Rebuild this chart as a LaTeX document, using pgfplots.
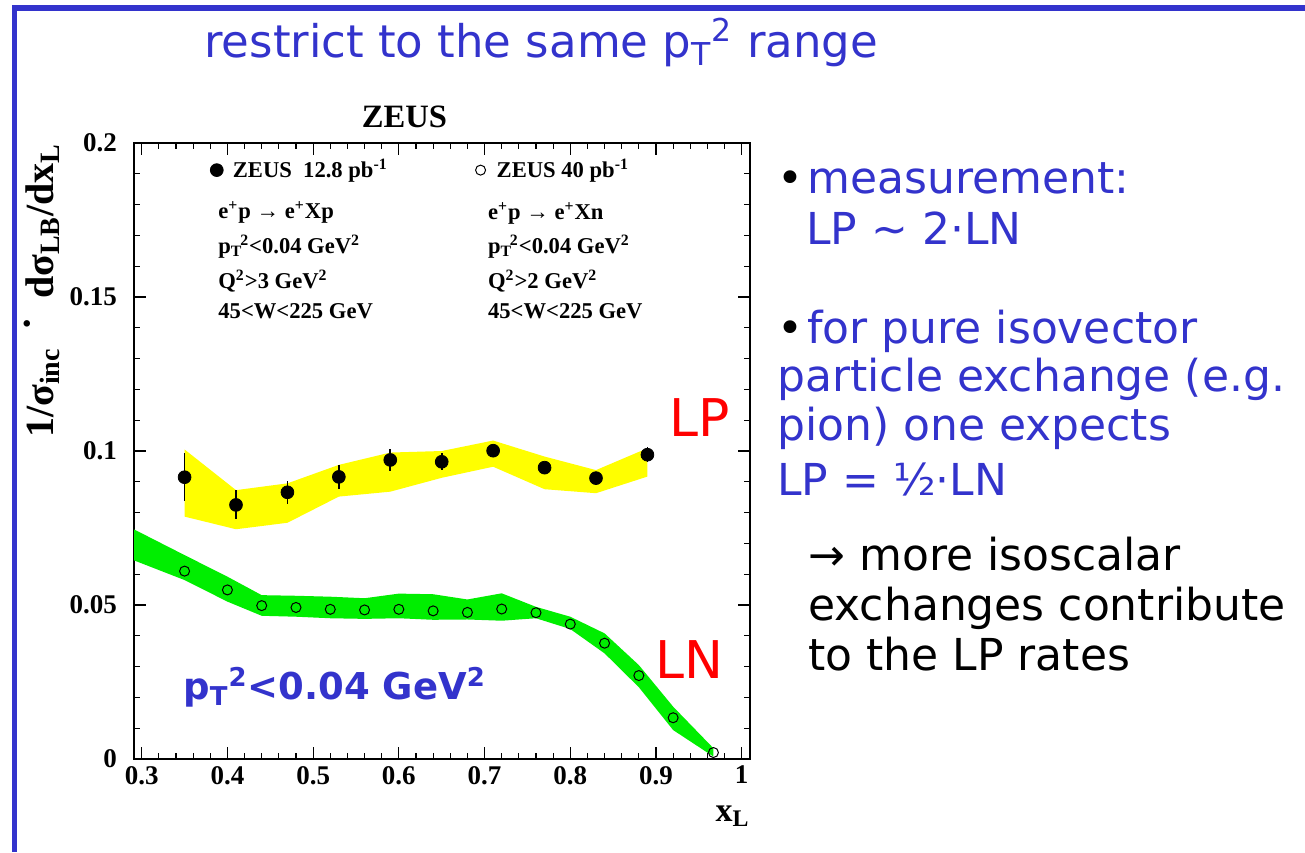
\documentclass[border=0pt]{standalone}
\usepackage{fontspec}
\setmainfont{Liberation Serif}
\newfontfamily\comic{DejaVu Sans}
\usepackage{pgfplots}
\pgfplotsset{compat=1.18}
\usepackage{pgfplotstable}
\definecolor{sblue}{RGB}{51,51,204}
\definecolor{sred}{RGB}{255,0,0}
\definecolor{byellow}{RGB}{255,255,0}
\definecolor{bgreen}{RGB}{0,238,0}

\pgfplotstableread{
x y e
0.35 0.0915 0.0078
0.41 0.0825 0.0047
0.47 0.0866 0.0037
0.53 0.0916 0.0039
0.59 0.0971 0.0036
0.65 0.0965 0.0027
0.71 0.1001 0.0020
0.77 0.0946 0.0010
0.83 0.0912 0.0010
0.89 0.0988 0.0024
}\lpdata

\pgfplotstableread{
x y
0.35 0.0610
0.40 0.0549
0.44 0.0498
0.48 0.0492
0.52 0.0486
0.56 0.0484
0.60 0.0486
0.64 0.0481
0.68 0.0476
0.72 0.0487
0.76 0.0475
0.80 0.0438
0.84 0.0376
0.88 0.0271
0.92 0.0134
0.967 0.0021
}\lndata

\begin{document}
\begin{tikzpicture}
\useasboundingbox (0,0) rectangle (652.5pt,-426pt);
\fill[white] (0,0) rectangle (652.5pt,-426pt);
\begin{scope}[x=0.5pt,y=-0.5pt]
\fill[sblue] (12,5) rectangle (1305,11);
\fill[sblue] (12,5) rectangle (17,852);
% slide title
\node[anchor=base west, inner sep=0, text=sblue, font=\comic\fontsize{22.5}{27}\selectfont] at (204,57) {restrict to the same p\textsubscript{T}\textsuperscript{2} range};
% chart title
\node[anchor=base, inner sep=0, font=\bfseries\fontsize{16.3}{18}\selectfont] at (404.5,127) {ZEUS};
% legend annotations
\begin{scope}[every node/.style={anchor=base west, inner sep=0, font=\bfseries\fontsize{11.3}{13}\selectfont}]
\node at (218,218.3) {e\textsuperscript{+}p → e\textsuperscript{+}Xp};
\node at (218,253.3) {p\textsubscript{T}\kern-0.1em\textsuperscript{2}<0.04 GeV\textsuperscript{2}};
\node at (218,288.3) {Q\textsuperscript{2}>3 GeV\textsuperscript{2}};
\node at (218,318.3) {45<W<225 GeV};
\node at (487.7,219.3) {e\textsuperscript{+}p → e\textsuperscript{+}Xn};
\node at (487.7,253.3) {p\textsubscript{T}\kern-0.1em\textsuperscript{2}<0.04 GeV\textsuperscript{2}};
\node at (487.7,288.3) {Q\textsuperscript{2}>2 GeV\textsuperscript{2}};
\node at (487.7,318.3) {45<W<225 GeV};
\end{scope}
% in-plot labels
\node[anchor=base west, inner sep=0, text=sred, font=\comic\fontsize{26}{30}\selectfont] at (669,436) {LP};
\node[anchor=base west, inner sep=0, text=sred, font=\comic\fontsize{26}{30}\selectfont] at (655,678) {LN};
\node[anchor=base west, inner sep=0, text=sblue, font=\comic\bfseries\fontsize{18.5}{22}\selectfont] at (183,699) {p\textsubscript{T}\textsuperscript{2}<0.04 GeV\textsuperscript{2}};
% axis labels
\node[rotate=90, anchor=base east, inner sep=0, font=\bfseries\fontsize{20}{24}\selectfont] at (53,143) {1/σ\textsubscript{inc}\hspace{0.45em}\raisebox{0.3em}{·}\hspace{0.45em}dσ\textsubscript{LB}/dx\textsubscript{L}};
\node[anchor=base east, inner sep=0, font=\bfseries\fontsize{17}{20}\selectfont] at (750,821.7) {x\textsubscript{L}};
% right text
\begin{scope}[every node/.style={anchor=base west, inner sep=0, font=\comic\fontsize{22}{26}\selectfont}]
\node at (777,193) {•};
\node[text=sblue] at (807,193) {measurement:};
\node[text=sblue] at (806,244) {LP ∼ 2·LN};
\node at (777,343) {•};
\node[text=sblue] at (807,343) {for pure isovector};
\node[text=sblue] at (777,391) {particle exchange (e.g.};
\node[text=sblue] at (777,440) {pion) one expects};
\node[text=sblue] at (777,495) {LP = ½·LN};
\node at (808,570) {→ more isoscalar};
\node at (808,620) {exchanges contribute};
\node at (808,670) {to the LP rates};
\end{scope}
\end{scope}

\begin{axis}[
  at={(67pt,-379.5pt)}, anchor=south west,
  scale only axis, width=308pt, height=308pt,
  xmin=0.291, xmax=1.0097, ymin=0, ymax=0.2,
  xtick={0.3,0.4,0.5,0.6,0.7,0.8,0.9,1},
  xticklabels={0.3,0.4,0.5,0.6,0.7,0.8,0.9,1},
  ytick={0,0.05,0.1,0.15,0.2},
  yticklabels={0,0.05,0.1,0.15,0.2},
  minor tick num=4,
  tick align=inside,
  xtick pos=both, ytick pos=both,
  major tick length=6pt, minor tick length=3pt,
  tick style={black, line width=0.6pt},
  axis line style={line width=0.8pt},
  tick label style={font=\bfseries\fontsize{13.5}{15}\selectfont},
  yticklabel style={xshift=-5pt},
  /pgf/number format/assume math mode=true,
  legend columns=2,
  legend style={draw=none, fill=none, at={(0.1071,0.956)}, anchor=west,
    font=\bfseries\fontsize{11.3}{13}\selectfont, nodes={inner sep=0pt},
    /tikz/every odd column/.append style={column sep=2.85pt},
    /tikz/every even column/.append style={column sep=0pt}},
  legend image code/.code={\path (-5pt,0pt) (5pt,0pt); \draw[#1] plot coordinates {(0pt,0pt)};},
]
\addplot[fill=byellow, draw=none, forget plot] coordinates {
(0.35,0.1005) (0.41,0.0873) (0.47,0.0895) (0.53,0.0955) (0.59,0.0995) (0.65,0.1000) (0.71,0.1034) (0.77,0.0982) (0.83,0.0938) (0.89,0.1009)
(0.89,0.0917) (0.83,0.0863) (0.77,0.0876) (0.71,0.0949) (0.65,0.0913) (0.59,0.0868) (0.53,0.0852) (0.47,0.0767) (0.41,0.0746) (0.35,0.0787)
};
\addplot[fill=bgreen, draw=none, forget plot] coordinates {
(0.29,0.0747) (0.35,0.0662) (0.40,0.0592) (0.44,0.0532) (0.48,0.0530) (0.52,0.0527) (0.56,0.0522) (0.60,0.0537) (0.64,0.0535) (0.68,0.0518) (0.72,0.0538) (0.76,0.0494) (0.80,0.0462) (0.84,0.0408) (0.88,0.0305) (0.92,0.0170) (0.967,0.0035)
(0.967,0.0008) (0.92,0.0094) (0.88,0.0233) (0.84,0.0343) (0.80,0.0422) (0.76,0.0457) (0.72,0.0449) (0.68,0.0453) (0.64,0.0452) (0.60,0.0457) (0.56,0.0455) (0.52,0.0457) (0.48,0.0462) (0.44,0.0465) (0.40,0.0511) (0.35,0.0581) (0.29,0.0646)
};
\addplot[only marks, mark=*, mark size=3.2pt, black,
  error bars/.cd, y dir=both, y explicit, error mark=none,
  error bar style={line width=0.9pt, black}]
  table[x=x, y=y, y error=e] {\lpdata};
\addlegendentry{\makebox[118.65pt][l]{ZEUS\ \ 12.8 pb\textsuperscript{-1}}}
\addplot[only marks, mark=o, mark size=2.5pt, black, mark options={line width=0.5pt}]
  table[x=x, y=y] {\lndata};
\addlegendentry{ZEUS 40 pb\textsuperscript{-1}}
\end{axis}
\end{tikzpicture}
\end{document}
